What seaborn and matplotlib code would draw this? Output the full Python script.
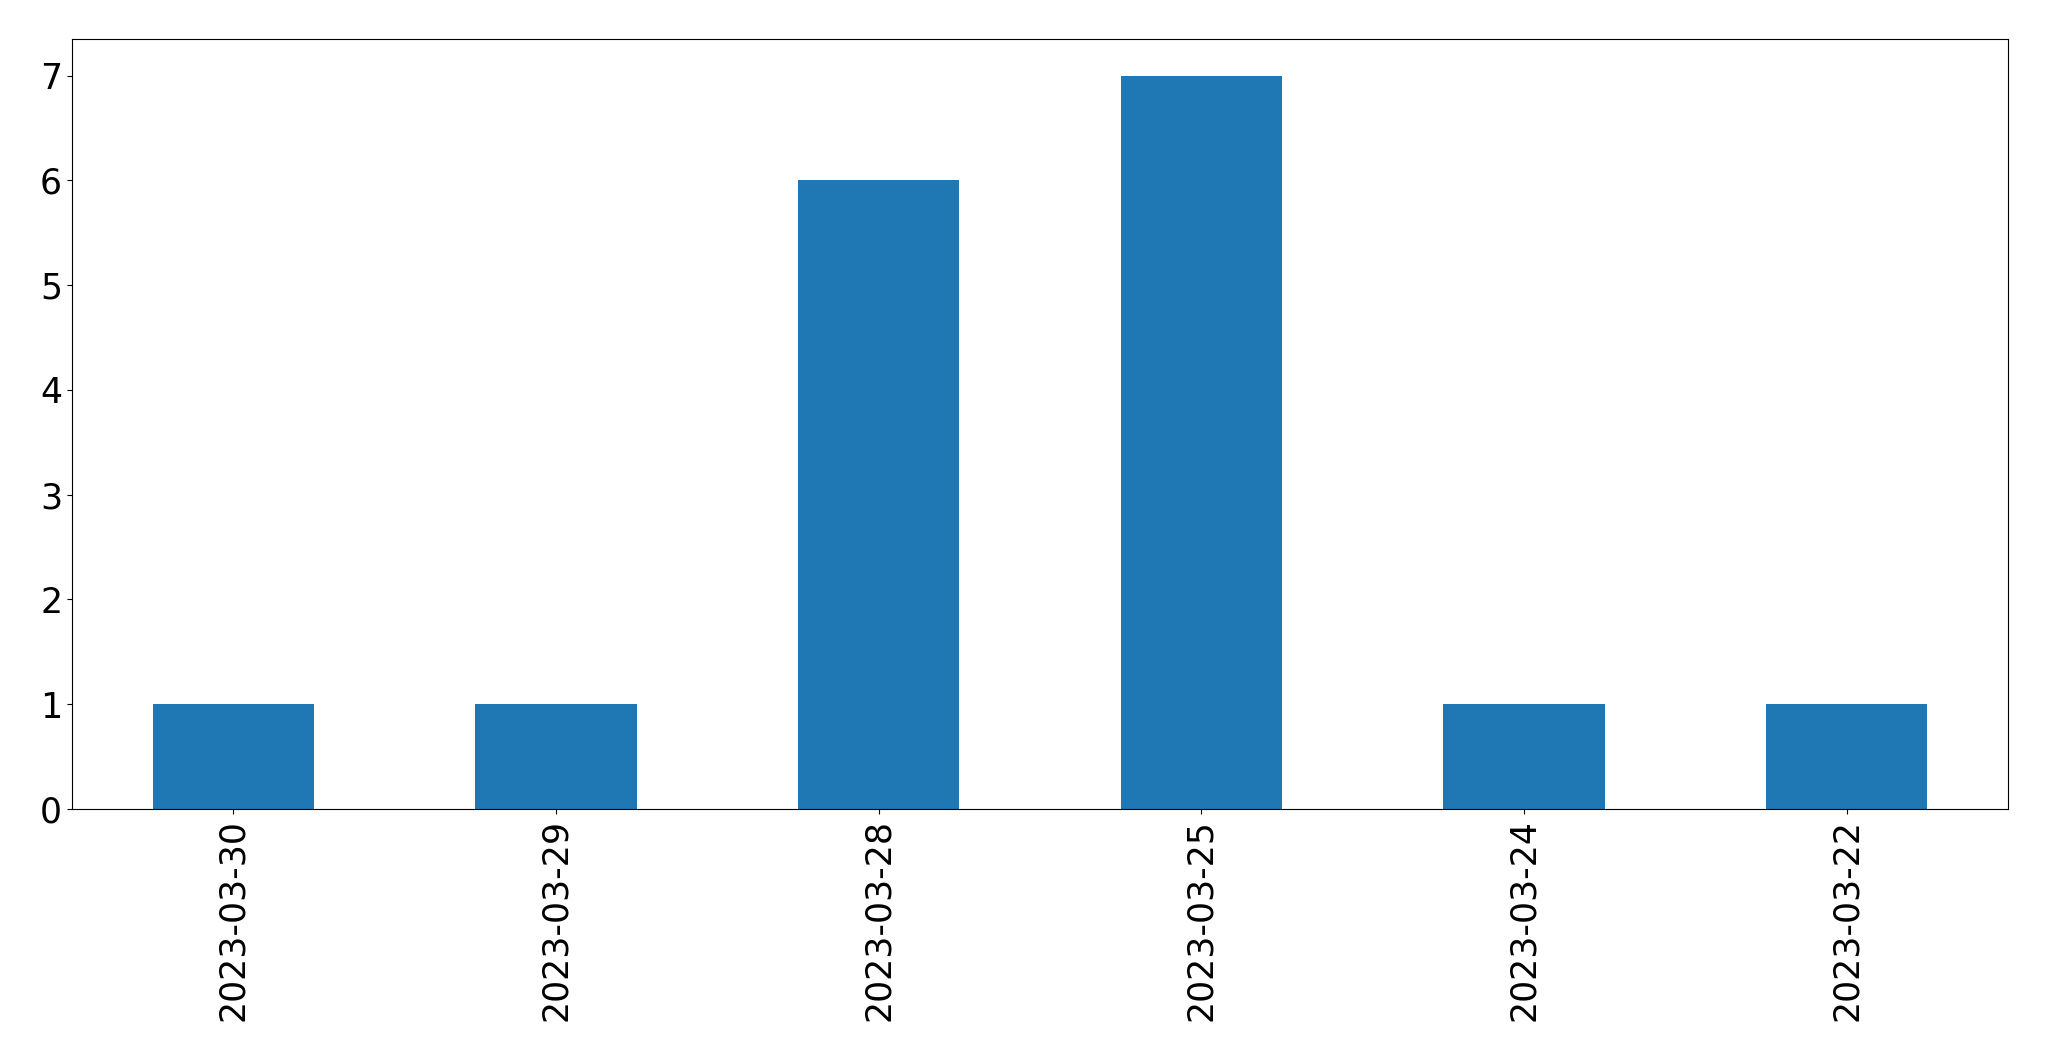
import pandas as pd
import seaborn as sns
import matplotlib.pyplot as plt


dates  = ['2023-03-30', '2023-03-29', '2023-03-28', '2023-03-25', '2023-03-24', '2023-03-22']
counts = [1, 1, 6, 7, 1, 1]

df = pd.DataFrame({'date': dates, 'count': counts})

fig = plt.figure(figsize=(20.49, 10.61), dpi=100)
ax = fig.add_axes([0.0351, 0.2375, 0.9449, 0.7257])

sns.barplot(data=df, x='date', y='count', order=dates, color='#1f77b4',
            saturation=1, width=0.5, ax=ax)

ax.set_xlim(-0.5, len(dates) - 0.5)
ax.set_ylim(0, 7.35)
ax.set_xlabel('')
ax.set_ylabel('')
ax.tick_params(axis='both', labelsize=25)
ax.tick_params(axis='x', labelrotation=90)

fig.savefig('out.png', dpi=100)
